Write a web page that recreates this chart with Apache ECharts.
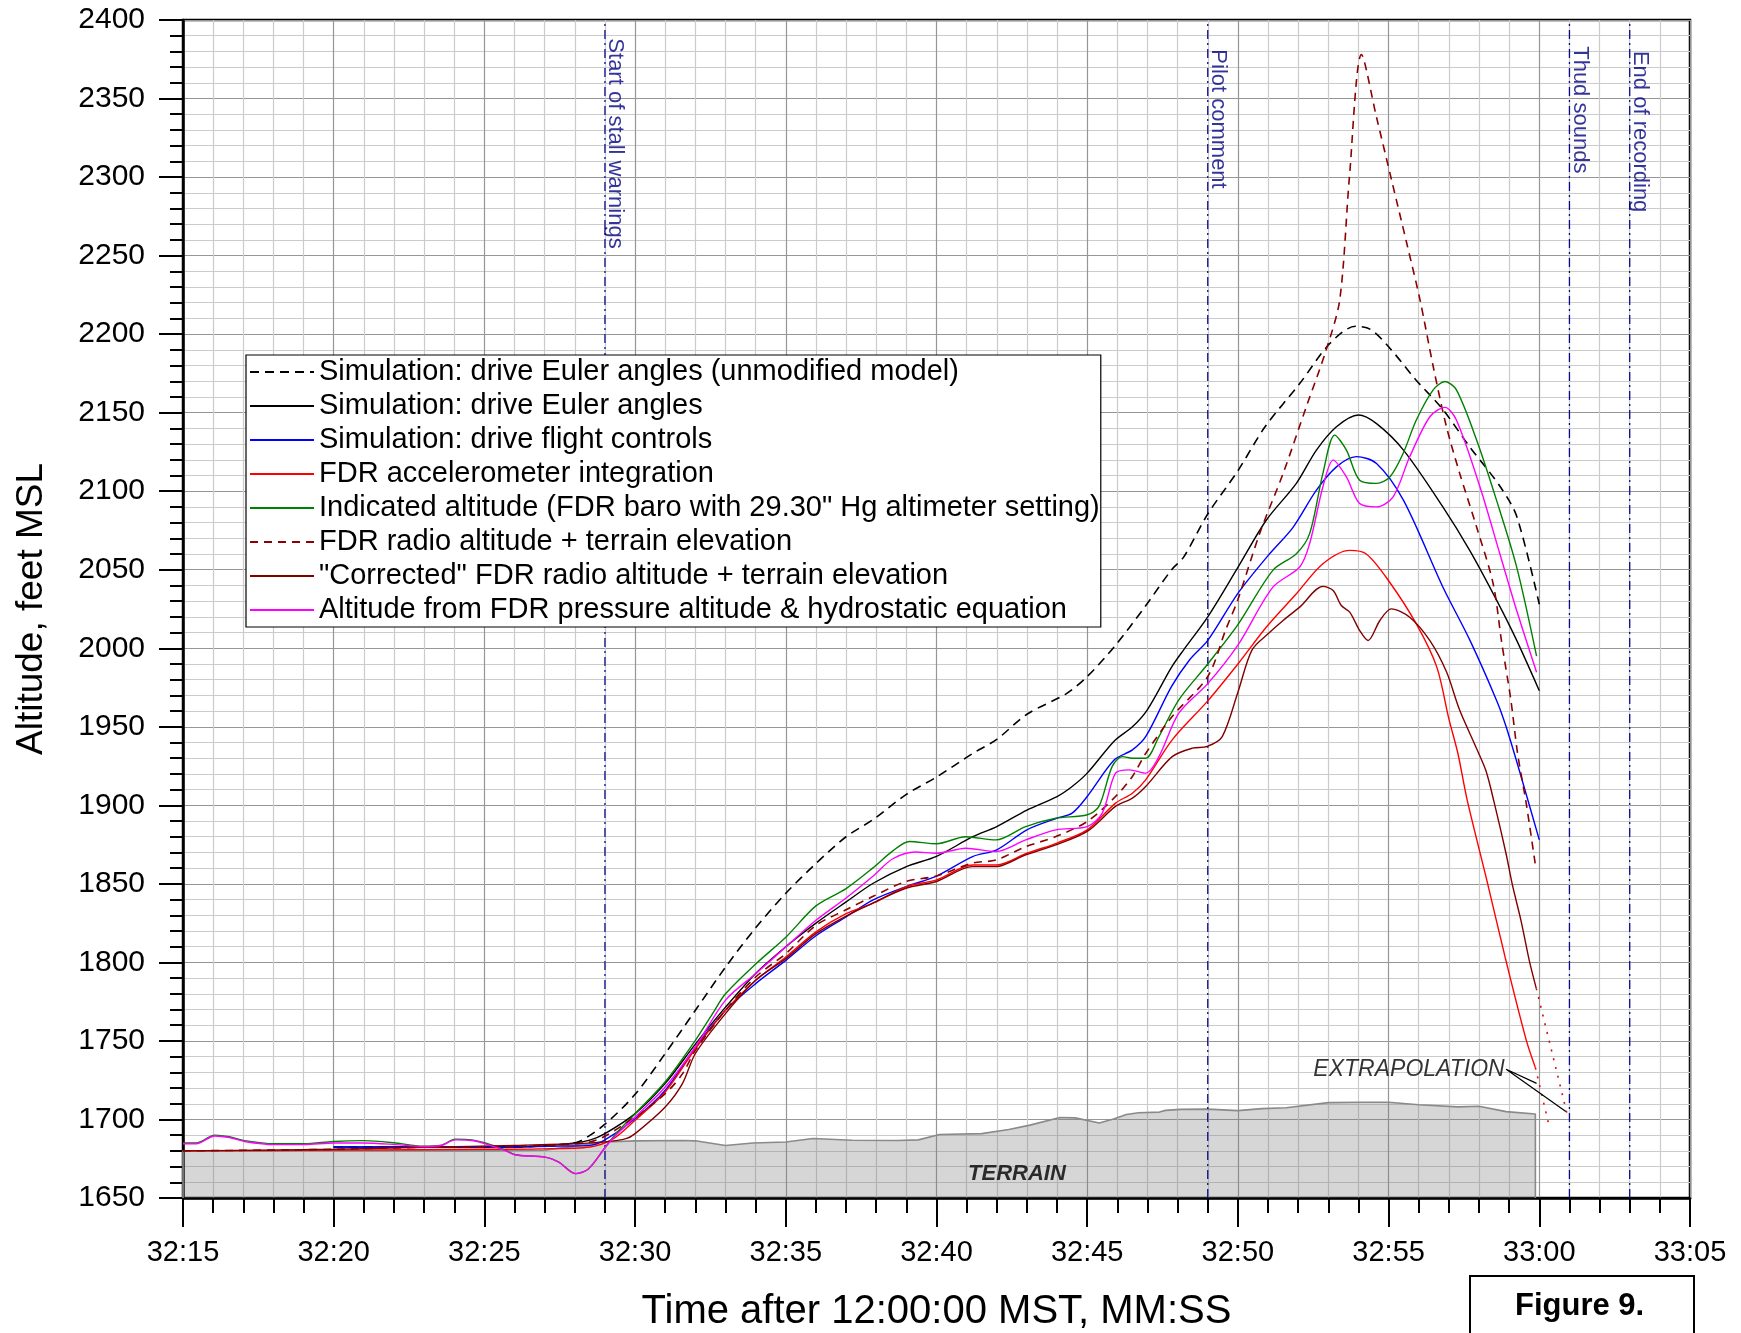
<!DOCTYPE html>
<html><head><meta charset="utf-8">
<script src="https://cdn.jsdelivr.net/npm/echarts@6/dist/echarts.min.js"></script>
<style>html,body{margin:0;padding:0;background:#fff}#c{width:1741px;height:1333px}</style>
</head><body><div id="c"></div>
<script>
const FONT = "'Liberation Sans', Arial, Helvetica, sans-serif";
// x values: seconds after 32:15 (time after 12:00:00 MST); y values: feet MSL
const seriesNames = [
  'Simulation: drive Euler angles (unmodified model)',
  'Simulation: drive Euler angles',
  'Simulation: drive flight controls',
  'FDR accelerometer integration',
  'Indicated altitude (FDR baro with 29.30" Hg altimeter setting)',
  'FDR radio altitude + terrain elevation',
  '"Corrected" FDR radio altitude + terrain elevation',
  'Altitude from FDR pressure altitude & hydrostatic equation'
];
const simUnmodified = [[5,1682.5],[8,1682.5],[11,1682.5],[12.5,1684],[13.14,1686],[14,1697],[15,1716],[16,1742],[17,1769.5],[18,1797],[19,1822],[20,1844],[21,1863],[22,1880],[22.9,1891],[24,1907],[25,1918],[26.2,1933],[27,1942],[28,1958],[29.3,1971],[30,1982],[30.9,2001],[31.9,2026],[32.8,2050],[33.2,2058],[34,2085.5],[35,2113],[35.9,2141],[37.05,2168.5],[38.05,2194],[38.9,2205],[39.4,2203],[40,2192],[40.9,2171],[41.8,2152],[42.7,2128],[43.7,2103],[44.25,2084],[45,2028]];
const simEuler = [[5,1682.5],[8,1682.5],[11,1682.5],[12.5,1684],[13.47,1686.7],[14,1691],[15,1703.7],[16,1723],[17,1748],[18,1771.5],[19,1793],[20,1810],[21,1825],[22,1838.5],[22.9,1850.4],[24,1861],[25,1867.5],[26.2,1880],[27,1886.5],[28,1897],[29,1905.6],[29.5,1912],[30,1920.5],[30.9,1941],[31.5,1950],[32,1961],[32.8,1988],[33.2,1999],[34,2020],[35,2051.5],[35.94,2081.5],[36.94,2105],[37.6,2126],[38.27,2141],[39,2148.5],[39.6,2143],[40.5,2126],[41.8,2090],[42.7,2062],[43.6,2030],[44.25,2005],[45,1973]];
const simControls = [[5,1682.5],[8,1682.5],[11,1682.5],[12.5,1683],[13.5,1683.5],[14,1687],[15,1700.5],[16,1718.6],[17,1746],[18,1769.5],[19,1786.5],[20,1801.3],[21,1817],[22,1829],[22.9,1839.8],[24,1848.3],[25,1855],[26.2,1867.4],[27,1871.7],[28,1884.4],[29,1891.8],[29.5,1895],[30,1905.6],[30.9,1929],[31.5,1935.3],[31.95,1944],[32.8,1975.7],[33.4,1992.7],[34,2005],[35,2035],[36,2059],[36.83,2077],[37.6,2100.5],[38.27,2115.5],[38.93,2122],[39.6,2117.7],[40.5,2094],[41.8,2039],[42.7,2005],[43.6,1966],[43.9,1950],[44.34,1922],[45,1878]];
const fdrAccel = [[0,1680],[5,1680.5],[10,1681],[11.8,1681.3],[13.5,1682.5],[14.3,1688],[15,1699.5],[16,1717.5],[17,1745],[18,1769.5],[19,1788.6],[20,1803.4],[21,1819.4],[22,1831],[22.9,1837.7],[24,1848.3],[25,1852.5],[26.2,1862],[27,1862],[28,1869.5],[29,1876],[30,1884.4],[30.94,1901.4],[31.5,1907.7],[31.94,1916.2],[32.82,1941.7],[34,1966.5],[35,1990],[35.94,2013.4],[36.94,2034.7],[37.82,2053.8],[38.71,2062.3],[39.26,2060],[40,2043],[40.92,2015.5],[41.6,1988],[42,1955],[42.3,1933],[42.6,1904],[43.25,1853],[43.87,1803],[44.56,1751],[44.87,1733]];
const indicatedAlt = [[0,1685],[0.44,1685],[1.05,1690],[1.54,1689],[2.04,1686.5],[3.03,1684.5],[4.02,1684.5],[5,1686],[6,1686.5],[7.06,1685],[7.94,1683],[8.55,1683.5],[9.04,1687.5],[9.59,1687],[10.03,1685],[10.69,1680.5],[11.03,1677.5],[12.02,1676],[12.46,1673],[13.03,1665.5],[13.45,1668.5],[14,1682],[14.36,1691],[15,1703.7],[16,1724],[17,1750.4],[17.57,1767.4],[18,1780],[19,1799],[20,1816],[21,1836],[22,1847],[22.88,1860],[23.55,1871],[24.1,1877],[25,1875.5],[25.97,1880],[26.97,1878],[27.96,1886.5],[28.96,1891.8],[30,1894],[30.39,1899.3],[30.83,1924.8],[31.17,1931],[31.5,1930],[31.94,1930],[32.38,1943.8],[33.04,1967.2],[34,1990],[35,2015],[36.16,2049.6],[36.94,2060.2],[37.38,2073],[37.82,2111.3],[38.21,2135.7],[38.6,2126.2],[39.04,2107],[39.6,2105],[40.04,2109],[40.48,2124],[40.92,2145.3],[41.48,2164.5],[41.87,2169.8],[42.25,2164.5],[42.92,2132.6],[43.58,2094.3],[44.25,2051.7],[44.91,1995]];
const radioAlt = [[0,1680],[5,1681],[8,1682.3],[11,1683],[13.5,1685.7],[15,1701.6],[16,1716.4],[16.57,1729],[17,1744],[18,1769.5],[19,1790.7],[20,1805.6],[21,1823.6],[22,1833.5],[22.88,1841.9],[23.98,1851.5],[25,1855],[26.19,1863.2],[26.97,1865.2],[27.96,1873.7],[28.96,1880.1],[30,1889.7],[30.94,1905.6],[31.5,1918.4],[31.94,1933],[32.82,1956.6],[34,1982],[34.6,2012],[35,2031],[35.72,2073],[36.5,2111.3],[37.27,2153.8],[37.93,2190],[38.38,2222],[38.7,2300],[39.1,2378],[39.6,2338],[40.1,2298],[40.6,2258],[41.04,2222],[41.48,2179.4],[41.92,2141],[42.36,2111.3],[42.92,2077.2],[43.47,2041],[43.75,2004],[44.05,1968],[44.28,1933],[44.56,1902],[44.87,1862]];
const radioCorrected = [[0,1680],[5,1681],[8,1682.3],[11,1683.5],[13,1684.5],[14,1685.7],[14.7,1687.8],[15,1691],[16,1708],[16.57,1722.8],[17,1742],[18,1767.4],[19,1788.6],[20,1802.4],[21,1818.3],[22,1829.5],[22.88,1837.7],[23.98,1847.2],[25,1851.5],[26.19,1861],[26.97,1861],[27.96,1868.5],[28.96,1874.8],[30,1883.4],[30.94,1899.3],[31.5,1904.6],[31.94,1912],[32.82,1931],[33.49,1936.4],[33.98,1937.5],[34.48,1943.8],[35,1972],[35.47,1999],[36.03,2009.7],[36.5,2017.7],[37.05,2026.2],[37.82,2039.4],[38.16,2036.8],[38.43,2027.2],[38.71,2023],[39.04,2011.3],[39.32,2004.9],[39.71,2017.7],[40.09,2025.1],[40.7,2019.8],[41.37,2004.9],[41.92,1985],[42.35,1961],[42.9,1937],[43.23,1922],[43.5,1902],[43.9,1869],[44.1,1850],[44.4,1826],[44.67,1801],[44.9,1783.5]];
const pressureHydro = [[0,1684.5],[0.44,1684.5],[1.05,1689.5],[1.54,1688.5],[2.04,1686],[3.03,1684],[4.02,1684],[5,1685],[6,1685],[7.06,1684],[7.94,1682.8],[8.55,1683.4],[9.04,1687],[9.59,1686.6],[10.03,1684.5],[10.69,1680.2],[11.03,1677.4],[12.02,1676],[12.46,1672.8],[13.03,1665.5],[13.45,1668.5],[14,1682],[14.36,1690],[15,1701.6],[16,1720.7],[17,1746.2],[18,1776],[19,1792.8],[20,1809.8],[21,1826.8],[22,1841],[22.88,1854.7],[23.55,1866],[24.3,1870.3],[25,1869.5],[25.97,1872.7],[26.97,1870.6],[27.96,1878],[28.96,1884.4],[30,1886.5],[30.5,1895],[30.94,1920.5],[31.39,1922.6],[31.94,1920.5],[32.38,1931],[33.04,1958.7],[34,1977.5],[35,2002],[36.16,2038.9],[37.05,2051.7],[37.38,2066.6],[37.82,2102.8],[38.16,2119.8],[38.6,2109.1],[39.04,2092.1],[39.6,2090],[40.15,2096.4],[40.7,2121.9],[41.37,2147.4],[41.87,2153.4],[42.25,2145.3],[43.03,2102.8],[43.69,2060.2],[44.25,2024],[44.91,1984.7]];
const terrain = [[0,1650],[0,1680],[5,1680],[10,1680],[12,1680.5],[13,1683],[13.8,1685.5],[15,1686.4],[16.6,1686.6],[17,1686.4],[18,1683.4],[18.9,1685],[20,1685.7],[20.9,1687.9],[22.2,1686.8],[23.7,1686.6],[24.4,1687],[25.1,1690.4],[26.5,1691],[27.4,1693.6],[28.1,1696.4],[29.1,1701.3],[29.6,1701],[30.4,1697.8],[30.9,1700.4],[31.3,1703.2],[31.7,1704.3],[32.4,1704.7],[32.6,1705.8],[33.1,1706.4],[34,1706.6],[35,1705.6],[35.8,1706.9],[36.6,1707.5],[38,1710.7],[39.1,1711],[40,1711],[41,1709.4],[42.3,1708],[43,1708.4],[43.9,1705],[44.87,1703.5],[44.87,1650]];
const extrapAccel = [[44.87,1733],[45.3,1698]];
const extrapCorrected = [[44.9,1783.5],[45.94,1702]];
const extrapLeader = [[44.91,1723],[43.9,1732],[45.88,1705]];
const extrapLabelAt = [43.9,1732];
const terrainLabelAt = [27.67,1665.6];
const eventNames = ['Start of stall warnings','Pilot comment','Thud sounds','End of recording'];
const eventTimes = [14, 34, 46, 48];
const eventLabelTop = [2388, 2381, 2383, 2380];
const yMin = 1650, yMax = 2400;

function fmtTime(v){ const t = 15 + v; const m = 32 + Math.floor(t/60); const s = Math.round(t % 60); return m + ':' + String(s).padStart(2,'0'); }
function ln(name, data, color, type, width, z){
  return {type:'line', name:name, data:data, symbol:'none', smooth:0.3, silent:true, z:z||3,
    lineStyle:{color:color, width:width||1.4, type:type||'solid'}, itemStyle:{color:color}};
}
const series = [
  {type:'line', name:'terrain', data:terrain, symbol:'none', silent:true, z:1,
   lineStyle:{color:'#8a8a8a', width:1.6}, areaStyle:{color:'rgba(120,120,120,0.44)', origin:'start'}},
];
eventTimes.forEach(function(t){
  series.push({type:'line', name:'event', data:[[t,yMin],[t,yMax]], symbol:'none', silent:true, z:2,
    lineStyle:{color:'#0a0a8c', width:1.3, type:[9,4,2,4]}});
});
series.push(ln(seriesNames[0], simUnmodified, '#000000', [9,6], 1.6, 4));
series.push(ln(seriesNames[1], simEuler, '#000000', 'solid', 1.4, 4));
series.push(ln(seriesNames[2], simControls, '#0000ff', 'solid', 1.4, 4));
series.push(ln(seriesNames[3], fdrAccel, '#ff0000', 'solid', 1.4, 4));
series.push(ln(seriesNames[4], indicatedAlt, '#008000', 'solid', 1.4, 4));
series.push(ln(seriesNames[5], radioAlt, '#8b0000', [8,6], 1.6, 4));
series.push(ln(seriesNames[6], radioCorrected, '#800000', 'solid', 1.4, 4));
series.push(ln(seriesNames[7], pressureHydro, '#ff00ff', 'solid', 1.4, 4));
series.push({type:'line', name:'extrapA', data:extrapAccel, symbol:'none', silent:true, z:4, lineStyle:{color:'#ff0000', width:1.6, type:[2,7]}});
series.push({type:'line', name:'extrapC', data:extrapCorrected, symbol:'none', silent:true, z:4, lineStyle:{color:'#d01010', width:1.6, type:[2,7]}});
series.push({type:'line', name:'leader', data:extrapLeader, symbol:'none', silent:true, z:4, lineStyle:{color:'#000', width:1.2}});
series.push({type:'scatter', name:'eventLabels', silent:true, z:6, symbolSize:1, itemStyle:{color:'rgba(0,0,0,0)'},
  data: eventTimes.map(function(t,i){ return [t, eventLabelTop[i]]; }),
  label:{show:true, rotate:-90, position:[0,0], align:'left', verticalAlign:'bottom', fontSize:22, color:'#000080', fontFamily:FONT,
    formatter:function(p){ return eventNames[p.dataIndex]; }}});
series.push({type:'scatter', name:'extrapLabel', silent:true, z:6, symbolSize:1, itemStyle:{color:'rgba(0,0,0,0)'},
  data:[extrapLabelAt], label:{show:true, position:'left', distance:1, fontSize:23, fontStyle:'italic', color:'#000', fontFamily:FONT, formatter:'EXTRAPOLATION'}});
series.push({type:'scatter', name:'terrainLabel', silent:true, z:6, symbolSize:1, itemStyle:{color:'rgba(0,0,0,0)'},
  data:[terrainLabelAt], label:{show:true, position:'inside', fontSize:22, fontStyle:'italic', fontWeight:'bold', color:'#000', fontFamily:FONT, formatter:'TERRAIN'}});

const chart = echarts.init(document.getElementById('c'), null, {renderer:'canvas'});
chart.setOption({
  animation:false,
  backgroundColor:'#ffffff',
  textStyle:{fontFamily:FONT},
  grid:{left:183, right:51, top:20, bottom:135, containLabel:false, outerBoundsMode:'none',
    show:true, borderColor:'#000', borderWidth:2.5, backgroundColor:'#fff'},
  legend:{show:true, data:seriesNames, orient:'vertical', left:246, top:355, itemWidth:64, itemHeight:14, itemGap:0,
    padding:[0,1,0,3], backgroundColor:'#fff', borderColor:'#000', borderWidth:1.2, selectedMode:false,
    itemStyle:{opacity:0, borderWidth:0},
    textStyle:{fontSize:29, color:'#000', fontFamily:FONT, lineHeight:34}},
  xAxis:{type:'value', min:0, max:50, interval:5,
    name:'Time after 12:00:00 MST, MM:SS', nameLocation:'middle', nameGap:94,
    nameTextStyle:{fontSize:40, color:'#000', fontFamily:FONT},
    axisLine:{show:true, onZero:false, lineStyle:{color:'#000', width:2.5}},
    axisTick:{show:true, length:29, lineStyle:{color:'#000', width:2}},
    minorTick:{show:true, splitNumber:5, length:15, lineStyle:{color:'#000', width:2}},
    axisLabel:{formatter:fmtTime, fontSize:29, color:'#000', margin:40, fontFamily:FONT},
    splitLine:{show:true, lineStyle:{color:'#969696', width:1.2}},
    minorSplitLine:{show:true, lineStyle:{color:'#cbcbcb', width:1.2}}},
  yAxis:{type:'value', min:yMin, max:yMax, interval:50,
    name:'Altitude, feet MSL', nameLocation:'middle', nameGap:133,
    nameTextStyle:{fontSize:37, color:'#000', fontFamily:FONT},
    axisLine:{show:true, onZero:false, lineStyle:{color:'#000', width:2.5}},
    axisTick:{show:true, length:24, lineStyle:{color:'#000', width:2}},
    minorTick:{show:true, splitNumber:5, length:13, lineStyle:{color:'#000', width:2}},
    axisLabel:{fontSize:30, color:'#000', margin:38, fontFamily:FONT, formatter:function(v){ return String(v); }},
    splitLine:{show:true, lineStyle:{color:'#969696', width:1.2}},
    minorSplitLine:{show:true, lineStyle:{color:'#cbcbcb', width:1.2}}},
  graphic:[
    {type:'rect', left:1469, top:1275, shape:{width:224, height:80}, style:{fill:'#fff', stroke:'#000', lineWidth:2}, z:10},
    {type:'text', left:1515, top:1291, style:{text:'Figure 9.', font:'bold 31px ' + FONT, fill:'#000'}, z:11}
  ],
  series:series
});
</script></body></html>
